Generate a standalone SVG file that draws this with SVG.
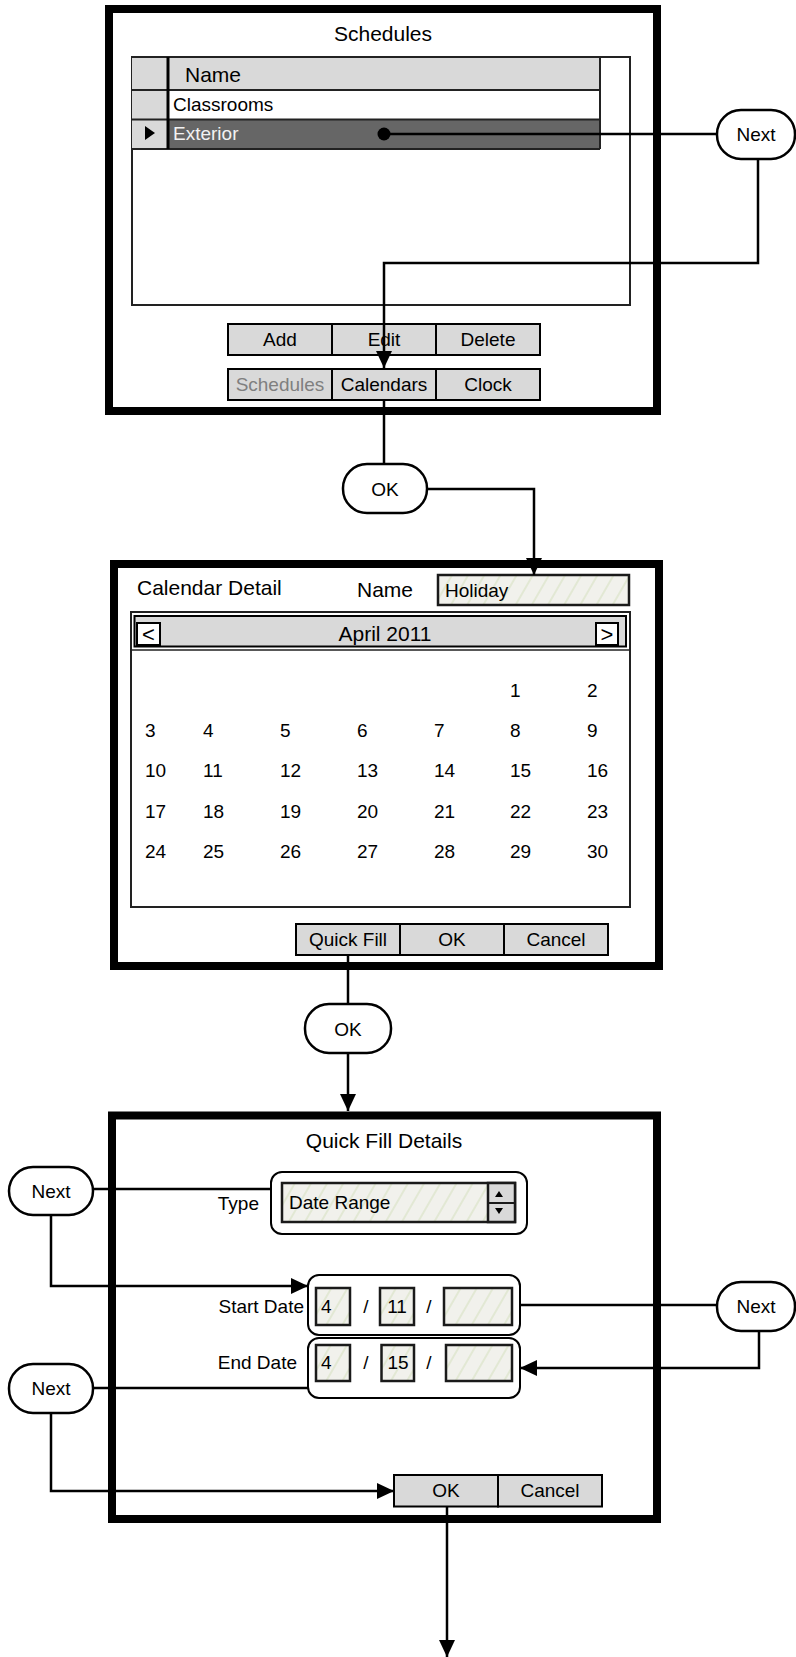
<svg xmlns="http://www.w3.org/2000/svg" width="796" height="1657" viewBox="0 0 796 1657">
<style>
.frame{fill:#fff;stroke:#000;stroke-width:8}
.btn{fill:#d9d9d9;stroke:#000;stroke-width:2}
.t{font-family:"Liberation Sans",Arial,sans-serif;font-size:19px;fill:#000}
.c{text-anchor:middle}
.e{text-anchor:end}
.big{font-size:21px}
.pill{fill:#fff;stroke:#000;stroke-width:2.5}
.grp{fill:#fff;stroke:#000;stroke-width:2}
.conn{fill:none;stroke:#000;stroke-width:2.5}
.arr{marker-end:url(#arr)}
.hatch{fill:url(#hatch);stroke:#1a1a1a;stroke-width:2.5}
.thin{fill:none;stroke:#222;stroke-width:2}
</style>
<defs>
<pattern id="hatch" patternUnits="userSpaceOnUse" width="14" height="14" patternTransform="rotate(30)">
<rect width="14" height="14" fill="#f1f1ec"/>
<line x1="7" y1="0" x2="7" y2="14" stroke="#dde6cc" stroke-width="1.5"/>
</pattern>
<marker id="arr" markerUnits="userSpaceOnUse" markerWidth="18" markerHeight="16" refX="17" refY="8" orient="auto">
<path d="M0,0 L17,8 L0,16 z" fill="#000"/>
</marker>
</defs>

<g id="schedules-screen">
<rect class="frame" x="109" y="9" width="548" height="402"/>
<text class="t big c" x="383" y="41">Schedules</text>
<rect x="132" y="57" width="498" height="248" fill="#fff" stroke="#222" stroke-width="2"/>
<rect x="132" y="57" width="468" height="33" fill="#d9d9d9"/>
<rect x="132" y="90" width="36" height="59" fill="#d9d9d9"/>
<rect x="168" y="120" width="432" height="29" fill="#666"/>
<path class="thin" d="M132,57 H600 V149 M132,90 H600 M132,119.5 H600 M132,149 H600"/>
<path d="M168,57 V149" stroke="#000" stroke-width="3"/>
<text class="t big" x="185" y="82">Name</text>
<text class="t" x="173" y="111">Classrooms</text>
<text class="t" x="173" y="140" style="fill:#f2f2f2">Exterior</text>
<polygon points="145,126 155,133 145,140" fill="#000"/>
<rect class="btn" x="228" y="324" width="104" height="31"/>
<rect class="btn" x="332" y="324" width="104" height="31"/>
<rect class="btn" x="436" y="324" width="104" height="31"/>
<text class="t c" x="280" y="346">Add</text>
<text class="t c" x="384" y="346">Edit</text>
<text class="t c" x="488" y="346">Delete</text>
<rect class="btn" x="228" y="369" width="104" height="31"/>
<rect class="btn" x="332" y="369" width="104" height="31"/>
<rect class="btn" x="436" y="369" width="104" height="31"/>
<text class="t c" x="280" y="391" style="fill:#7f7f7f">Schedules</text>
<text class="t c" x="384" y="391">Calendars</text>
<text class="t c" x="488" y="391">Clock</text>
</g>

<g id="calendar-screen">
<rect class="frame" x="114" y="564" width="545" height="402"/>
<text class="t big" x="137" y="595">Calendar Detail</text>
<text class="t big" x="357" y="597">Name</text>
<rect class="hatch" x="438" y="575" width="191" height="30"/>
<text class="t" x="445" y="597">Holiday</text>
<rect x="131" y="612" width="499" height="295" fill="#fff" stroke="#222" stroke-width="2"/>
<rect x="131" y="612" width="499" height="38" fill="none" stroke="#222" stroke-width="1.5"/>
<rect x="134.5" y="616" width="491.5" height="30.5" fill="#d9d9d9" stroke="#000" stroke-width="2"/>
<rect x="137" y="623" width="23" height="22" fill="#fff" stroke="#000" stroke-width="2"/>
<rect x="596" y="623" width="22" height="22" fill="#fff" stroke="#000" stroke-width="2"/>
<text class="t c" x="148.5" y="642" style="font-size:22px">&lt;</text>
<text class="t c" x="607" y="642" style="font-size:22px">&gt;</text>
<text class="t big c" x="385" y="641">April 2011</text>
<text class="t" x="510" y="697">1</text>
<text class="t" x="587" y="697">2</text>
<text class="t" x="145" y="737">3</text>
<text class="t" x="203" y="737">4</text>
<text class="t" x="280" y="737">5</text>
<text class="t" x="357" y="737">6</text>
<text class="t" x="434" y="737">7</text>
<text class="t" x="510" y="737">8</text>
<text class="t" x="587" y="737">9</text>
<text class="t" x="145" y="777">10</text>
<text class="t" x="203" y="777">11</text>
<text class="t" x="280" y="777">12</text>
<text class="t" x="357" y="777">13</text>
<text class="t" x="434" y="777">14</text>
<text class="t" x="510" y="777">15</text>
<text class="t" x="587" y="777">16</text>
<text class="t" x="145" y="818">17</text>
<text class="t" x="203" y="818">18</text>
<text class="t" x="280" y="818">19</text>
<text class="t" x="357" y="818">20</text>
<text class="t" x="434" y="818">21</text>
<text class="t" x="510" y="818">22</text>
<text class="t" x="587" y="818">23</text>
<text class="t" x="145" y="858">24</text>
<text class="t" x="203" y="858">25</text>
<text class="t" x="280" y="858">26</text>
<text class="t" x="357" y="858">27</text>
<text class="t" x="434" y="858">28</text>
<text class="t" x="510" y="858">29</text>
<text class="t" x="587" y="858">30</text>
<rect class="btn" x="296" y="924" width="104" height="31"/>
<rect class="btn" x="400" y="924" width="104" height="31"/>
<rect class="btn" x="504" y="924" width="104" height="31"/>
<text class="t c" x="348" y="946">Quick Fill</text>
<text class="t c" x="452" y="946">OK</text>
<text class="t c" x="556" y="946">Cancel</text>
</g>

<g id="quickfill-screen">
<rect class="frame" x="112" y="1115.5" width="545" height="403.5"/>
<text class="t big c" x="384" y="1148">Quick Fill Details</text>
<text class="t e" x="259" y="1210">Type</text>
<rect class="grp" x="271" y="1172" width="256" height="62" rx="11"/>
<rect class="hatch" x="282" y="1183" width="233" height="39"/>
<text class="t" x="289" y="1209">Date Range</text>
<rect x="488" y="1183" width="27" height="39" fill="#d9d9d9" stroke="#1a1a1a" stroke-width="2.5"/>
<line x1="488" y1="1203" x2="515" y2="1203" stroke="#1a1a1a" stroke-width="2"/>
<polygon points="495,1197 503,1197 499,1191" fill="#000"/>
<polygon points="495,1208 503,1208 499,1214" fill="#000"/>
<text class="t e" x="304" y="1313">Start Date</text>
<rect class="grp" x="308" y="1275" width="212" height="60" rx="11"/>
<rect class="hatch" x="316" y="1288" width="34" height="37"/>
<rect class="hatch" x="380" y="1288" width="34" height="37"/>
<rect class="hatch" x="444" y="1288" width="68" height="37"/>
<text class="t" x="321" y="1313">4</text>
<text class="t c" x="366" y="1313">/</text>
<text class="t c" x="397" y="1313">11</text>
<text class="t c" x="429" y="1313">/</text>
<text class="t e" x="297" y="1369">End Date</text>
<rect class="grp" x="308" y="1338" width="212" height="60" rx="11"/>
<rect class="hatch" x="316" y="1345" width="34" height="36"/>
<rect class="hatch" x="381.5" y="1345" width="32.5" height="36"/>
<rect class="hatch" x="446" y="1345" width="66" height="36"/>
<text class="t" x="321" y="1369">4</text>
<text class="t c" x="366" y="1369">/</text>
<text class="t c" x="398" y="1369">15</text>
<text class="t c" x="429" y="1369">/</text>
<rect class="btn" x="394" y="1475" width="104" height="31.5"/>
<rect class="btn" x="498" y="1475" width="104" height="31.5"/>
<text class="t c" x="446" y="1497">OK</text>
<text class="t c" x="550" y="1497">Cancel</text>
</g>

<g id="next-1"><rect class="pill" x="717" y="110" width="78" height="49" rx="24"/><text class="t c" x="756" y="141">Next</text></g>
<g id="ok-1"><rect class="pill" x="343" y="464" width="84" height="49" rx="24"/><text class="t c" x="385" y="496">OK</text></g>
<g id="ok-2"><rect class="pill" x="305" y="1004" width="86" height="49" rx="24"/><text class="t c" x="348" y="1036">OK</text></g>
<g id="next-2"><rect class="pill" x="9" y="1167" width="84" height="48" rx="24"/><text class="t c" x="51" y="1198">Next</text></g>
<g id="next-3"><rect class="pill" x="717" y="1282" width="78" height="49" rx="24"/><text class="t c" x="756" y="1313">Next</text></g>
<g id="next-4"><rect class="pill" x="9" y="1364" width="84" height="49" rx="24"/><text class="t c" x="51" y="1395">Next</text></g>

<g id="connectors">
<circle cx="384" cy="134" r="6.5" fill="#000"/>
<path class="conn" d="M384,134 H717"/>
<path class="conn arr" d="M758,159 V263 H384 V368"/>
<path class="conn" d="M384,400 V464"/>
<path class="conn arr" d="M427,489 H534 V575"/>
<path class="conn" d="M348,955 V1004"/>
<path class="conn arr" d="M348,1053 V1111"/>
<path class="conn" d="M93,1189 H271"/>
<path class="conn arr" d="M51,1215 V1286 H308"/>
<path class="conn" d="M520,1305 H717"/>
<path class="conn arr" d="M759,1331 V1368 H520"/>
<path class="conn" d="M93,1388 H308"/>
<path class="conn arr" d="M51,1413 V1491 H394"/>
<path class="conn arr" d="M447,1506.5 V1657"/>
</g>
</svg>
